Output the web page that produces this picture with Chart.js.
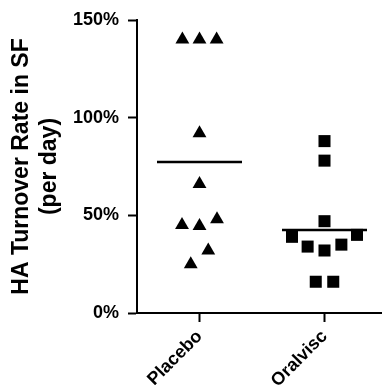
<!DOCTYPE html>
<html>
<head>
<meta charset="utf-8">
<script src="https://cdn.jsdelivr.net/npm/chart.js@4"></script>
<style>
  html, body { margin: 0; padding: 0; background: #fff; }
  #wrap { width: 382px; height: 385px; }
</style>
</head>
<body>
<div id="wrap"><canvas id="myChart" width="382" height="385"></canvas></div>
<script>
const groups = ['Placebo', 'Oralvisc'];
const yTicks = [0, 50, 100, 150];

// placebo: jitter offset around the category and value (%)
const placeboX = [-0.137, 0, 0.137, 0, 0, -0.14, 0, 0.14, 0.07, -0.07];
const placeboY = [140, 140, 140, 92, 66, 45, 44.5, 48, 32, 25];

// oralvisc
const oralviscX = [0, 0, 0, -0.26, -0.135, 0, 0.135, 0.26, -0.07, 0.07];
const oralviscY = [88, 78, 47, 39, 34, 32, 35, 40, 16, 16];

const fontFam = "'Liberation Sans', Arial, Helvetica, sans-serif";

function pts(center, xs, ys) {
    return ys.map((y, i) => ({ x: center + xs[i], y: y }));
}
function mean(arr) {
    return arr.reduce((a, b) => a + b, 0) / arr.length;
}
function meanLine(center, arr) {
    let m = mean(arr);
    return [{ x: center - 0.34, y: m }, { x: center + 0.34, y: m }];
}

const data = {
    datasets: [{
        label: groups[0],
        data: pts(1, placeboX, placeboY),
        pointStyle: 'triangle',
        pointRadius: 8,
        backgroundColor: '#000',
        borderWidth: 0
    }, {
        label: groups[1],
        data: pts(2, oralviscX, oralviscY),
        pointStyle: 'rect',
        pointRadius: 8.5,
        backgroundColor: '#000',
        borderWidth: 0
    }, {
        label: 'mean placebo',
        data: meanLine(1, placeboY),
        showLine: true,
        borderColor: '#000',
        borderWidth: 2.5,
        pointRadius: 0
    }, {
        label: 'mean oralvisc',
        data: meanLine(2, oralviscY),
        showLine: true,
        borderColor: '#000',
        borderWidth: 2.5,
        pointRadius: 0
    }]
};

const config = {
    type: 'scatter',
    data: data,
    options: {
        responsive: false,
        animation: false,
        clip: false,
        layout: { autoPadding: false, padding: { top: 20, right: 0, bottom: 0, left: 0 } },
        plugins: { legend: { display: false }, tooltip: { enabled: false } },
        scales: {
            x: {
                type: 'linear',
                min: 0.5,
                max: 2.46,
                afterBuildTicks: (axis) => { axis.ticks = [1, 2].map(v => ({ value: v })); },
                afterFit: (axis) => {
                    axis.height = 72;
                    axis.paddingLeft = 0;
                    axis.paddingRight = 0;
                },
                ticks: {
                    autoSkip: false,
                    minRotation: 45,
                    maxRotation: 45,
                    padding: 4,
                    color: '#000',
                    font: { family: fontFam, size: 18, weight: 'bold' },
                    callback: (v) => groups[v - 1]
                },
                grid: {
                    drawOnChartArea: false,
                    drawTicks: true,
                    tickLength: 9,
                    tickWidth: 2,
                    tickColor: '#000'
                },
                border: { display: true, color: '#000', width: 2 }
            },
            y: {
                min: 0,
                max: 150,
                afterBuildTicks: (axis) => { axis.ticks = yTicks.map(v => ({ value: v })); },
                afterFit: (axis) => { axis.width = 137; },
                ticks: {
                    padding: 9,
                    color: '#000',
                    font: { family: fontFam, size: 18, weight: 'bold' },
                    callback: (v) => v + '%'
                },
                grid: {
                    drawOnChartArea: false,
                    drawTicks: true,
                    tickLength: 9,
                    tickWidth: 2,
                    tickColor: '#000'
                },
                border: { display: true, color: '#000', width: 2 },
                title: {
                    display: true,
                    text: ['HA Turnover Rate in SF', '(per day)'],
                    color: '#000',
                    padding: { top: 7, bottom: 0 },
                    font: { family: fontFam, size: 23, weight: 'bold', lineHeight: 1.25 }
                }
            }
        }
    }
};

const myChart = new Chart(document.getElementById('myChart'), config);
</script>
</body>
</html>
